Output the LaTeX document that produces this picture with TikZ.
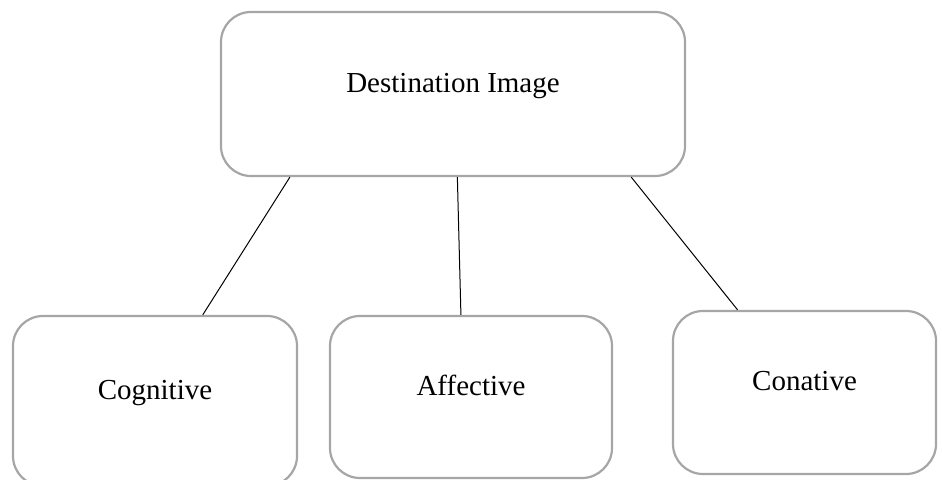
\documentclass[tikz,border=0pt]{standalone}
\usepackage{fontspec}
\setmainfont{Liberation Serif}
\begin{document}
\begin{tikzpicture}[x=0.5pt, y=-0.5pt,
    box/.style={draw=black!35, line width=1.1pt, rounded corners=15pt,
                font=\fontsize{14.5}{17}\selectfont, text height=10pt, text depth=11.5pt}]
    \useasboundingbox (0, 0) rectangle (942, 480);
    \clip (0, 0) rectangle (942, 480);
    \node (dest) [box, minimum width=232pt, minimum height=82pt] at (453, 94) {Destination Image};
    \node (cog) [box, minimum width=142pt, minimum height=85pt] at (155, 401) {Cognitive};
    \node (aff) [box, minimum width=141pt, minimum height=81pt] at (471, 397) {Affective};
    \node (con) [box, minimum width=131.5pt, minimum height=81.5pt] at (804.5, 392.5) {Conative};
    \draw[line width=0.5pt] (dest.-153.3) edge (cog.61.8)
                            (dest.-87.2) edge (aff.97)
                            (dest.-25.5) edge (con.129.2);
\end{tikzpicture}
\end{document}
